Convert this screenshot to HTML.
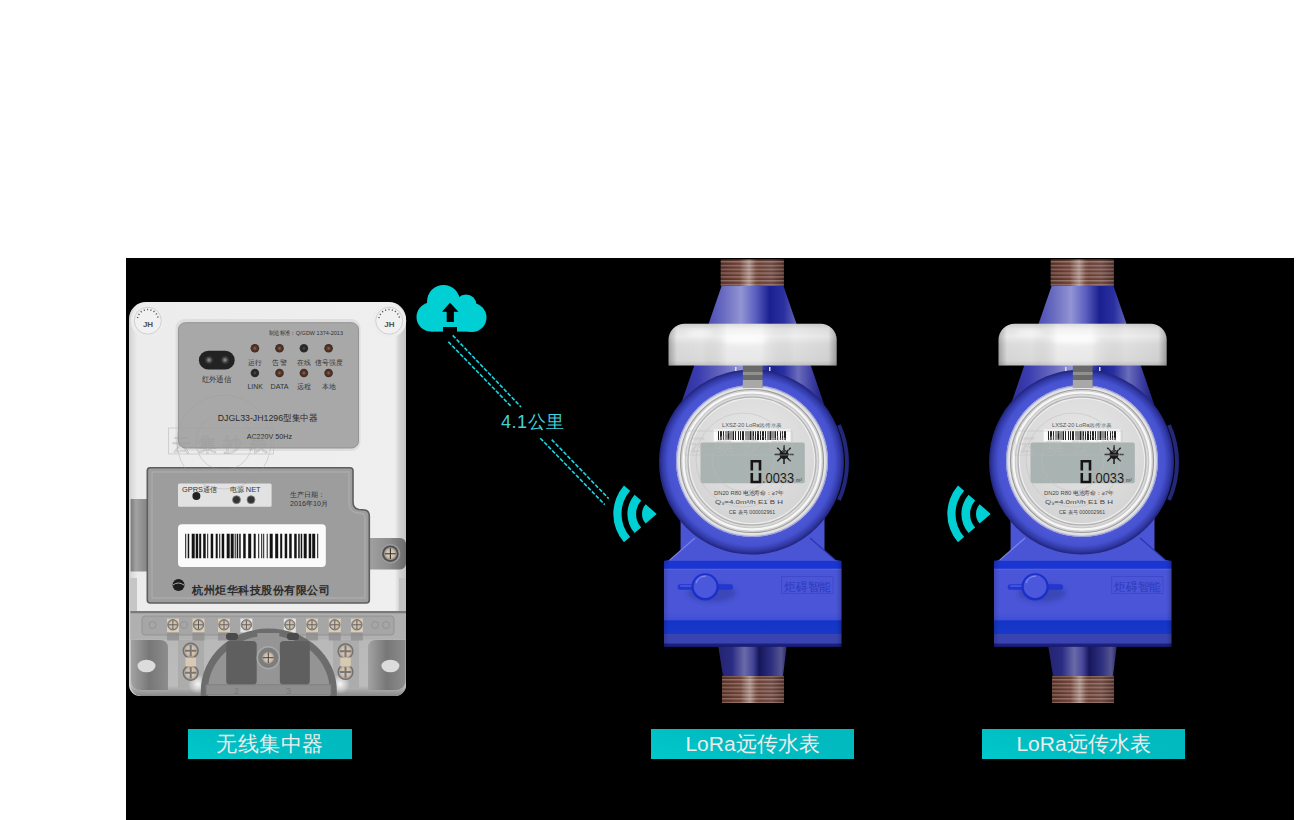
<!DOCTYPE html>
<html><head><meta charset="utf-8">
<style>
html,body{margin:0;padding:0;background:#fff;width:1300px;height:820px;overflow:hidden;font-family:"Liberation Sans",sans-serif}
#stage{position:absolute;left:126px;top:258px;width:1168px;height:562px;background:#000}
.abs{position:absolute}
.label{position:absolute;top:729px;height:30px;background:linear-gradient(20deg,#00c9cc 0%,#00bcc1 45%,#00b9be 100%);color:#ececec;font-size:21px;line-height:30px;text-align:center;white-space:nowrap}
</style></head>
<body>
<div id="stage"></div>
<svg class="abs" style="left:0;top:0" width="1300" height="820" viewBox="0 0 1300 820">
 <defs>
  <linearGradient id="bodyG" x1="0" x2="1" y1="0" y2="0">
   <stop offset="0" stop-color="#d2d2d2"/><stop offset="0.03" stop-color="#ececec"/>
   <stop offset="0.96" stop-color="#efefef"/><stop offset="0.975" stop-color="#d4d4d4"/><stop offset="1" stop-color="#c4c4c4"/>
  </linearGradient>
  <linearGradient id="coverG" x1="0" x2="0" y1="0" y2="1">
   <stop offset="0" stop-color="#a2a2a2"/><stop offset="0.5" stop-color="#9a9a9a"/><stop offset="1" stop-color="#8e8e8e"/>
  </linearGradient>
  <radialGradient id="irG" cx="0.5" cy="0.5" r="0.5">
   <stop offset="0" stop-color="#9a9a9a"/><stop offset="0.6" stop-color="#3a3a3a"/><stop offset="1" stop-color="#1e1e1e"/>
  </radialGradient>
  <radialGradient id="ledB" cx="0.5" cy="0.5" r="0.5">
   <stop offset="0" stop-color="#8a7060"/><stop offset="0.45" stop-color="#5a3424"/><stop offset="1" stop-color="#3a2a22"/>
  </radialGradient>
  <radialGradient id="ledK" cx="0.5" cy="0.5" r="0.5">
   <stop offset="0" stop-color="#555"/><stop offset="0.5" stop-color="#222"/><stop offset="1" stop-color="#333"/>
  </radialGradient>
  <radialGradient id="scrG" cx="0.5" cy="0.5" r="0.5">
   <stop offset="0" stop-color="#e6d8c6"/><stop offset="0.7" stop-color="#cbb8a4"/><stop offset="1" stop-color="#7a7a7a"/>
  </radialGradient>
 </defs>
 <!-- body -->
 <path d="M146 302 H389 A17 17 0 0 1 406 319 V685 A11 11 0 0 1 395 696 H140 A11 11 0 0 1 129 685 V319 A17 17 0 0 1 146 302 Z" fill="url(#bodyG)"/>
 <!-- JH badges -->
 <circle cx="147.8" cy="320.7" r="17" fill="#ededed"/><circle cx="389.2" cy="320.7" r="17" fill="#ededed"/>
 <g fill="#f1f1f1" stroke="#d0d0d0" stroke-width="1">
  <circle cx="147.8" cy="320.7" r="13.5"/><circle cx="389.2" cy="320.7" r="13.5"/>
 </g>
 <g font-family="Liberation Sans" font-weight="bold" font-size="8" fill="#505050" text-anchor="middle">
  <text x="148" y="327.3">JH</text><text x="389.4" y="327.3">JH</text>
 </g>
 <g stroke="#555" stroke-width="1.5" stroke-dasharray="1.1 2.3" fill="none">
  <path d="M137.5 318 A10.5 10.5 0 0 1 158.1 318"/><path d="M378.9 318 A10.5 10.5 0 0 1 399.5 318"/>
 </g>
 <!-- upper panel -->
 <rect x="175.5" y="319" width="185" height="132" rx="9" fill="#dedede"/>
 <rect x="178.4" y="322.7" width="180.1" height="125.3" rx="7" fill="#a8a8a8" stroke="#939393" stroke-width="1"/>
 <g font-family="Liberation Sans" fill="#333" lengthAdjust="spacingAndGlyphs">
  <text x="269" y="334.6" font-size="6.2" textLength="74" lengthAdjust="spacingAndGlyphs">制造标准：Q/GDW 1374-2013</text>
  <text x="201.5" y="381.8" font-size="7.6" textLength="29.8" lengthAdjust="spacingAndGlyphs">红外通信</text>
  <text x="248.4" y="364.8" font-size="7.4" textLength="13.6" lengthAdjust="spacingAndGlyphs">运行</text>
  <text x="272.3" y="364.8" font-size="7.4" textLength="14.5" lengthAdjust="spacingAndGlyphs">告警</text>
  <text x="297" y="364.8" font-size="7.4" textLength="13.7" lengthAdjust="spacingAndGlyphs">在线</text>
  <text x="315.3" y="364.8" font-size="7.4" textLength="27" lengthAdjust="spacingAndGlyphs">信号强度</text>
  <text x="247.5" y="388.6" font-size="7.4" textLength="15.4" lengthAdjust="spacingAndGlyphs">LINK</text>
  <text x="270.6" y="388.6" font-size="7.4" textLength="18" lengthAdjust="spacingAndGlyphs">DATA</text>
  <text x="297" y="388.6" font-size="7.4" textLength="13.7" lengthAdjust="spacingAndGlyphs">远程</text>
  <text x="321.8" y="388.6" font-size="7.4" textLength="13.7" lengthAdjust="spacingAndGlyphs">本地</text>
  <text x="217.7" y="421.2" font-size="9.2" fill="#2a2a2a" textLength="99.8" lengthAdjust="spacingAndGlyphs">DJGL33-JH1296型集中器</text>
  <text x="246.7" y="439" font-size="7.4" fill="#2a2a2a" textLength="45.3" lengthAdjust="spacingAndGlyphs">AC220V 50Hz</text>
 </g>
 <rect x="198.9" y="350.8" width="35.8" height="18.8" rx="9.4" fill="#222"/>
 <circle cx="209" cy="360" r="5" fill="url(#irG)"/><circle cx="225" cy="360" r="5" fill="url(#irG)"/>
 <g>
  <circle cx="254.9" cy="348.3" r="4.3" fill="url(#ledB)"/><circle cx="279.5" cy="348.3" r="4.3" fill="url(#ledB)"/>
  <circle cx="303.9" cy="348.3" r="4.3" fill="url(#ledK)"/><circle cx="328.6" cy="348.3" r="4.3" fill="url(#ledB)"/>
  <circle cx="254.9" cy="373" r="4.3" fill="url(#ledK)"/><circle cx="279.5" cy="373" r="4.3" fill="url(#ledB)"/>
  <circle cx="303.9" cy="373" r="4.3" fill="url(#ledB)"/><circle cx="328.6" cy="373" r="4.3" fill="url(#ledB)"/>
 </g>
 <!-- side tabs -->
 <linearGradient id="brkG" x1="0" x2="1"><stop offset="0" stop-color="#a4a4a4"/><stop offset="0.6" stop-color="#8c8c8c"/><stop offset="1" stop-color="#6a6a6a"/></linearGradient>
 <path d="M366 538 H400 A6 6 0 0 1 406 544 V563.5 A6 6 0 0 1 400 569.5 H366 Z" fill="url(#brkG)"/>
 <circle cx="390.4" cy="553.7" r="10" fill="#9a9a9a"/>
 <circle cx="390.4" cy="553.7" r="8.3" fill="#4e4e4e"/>
 <circle cx="390.4" cy="553.7" r="6.6" fill="url(#scrG)"/>
 <path d="M385 553.7 H395.8 M390.4 548.3 V559.1" stroke="#333" stroke-width="1.1"/>
 <linearGradient id="tabG" x1="0" x2="1"><stop offset="0" stop-color="#7a7a7a"/><stop offset="0.3" stop-color="#a2a2a2"/><stop offset="0.7" stop-color="#8e8e8e"/><stop offset="1" stop-color="#848484"/></linearGradient>
 <rect x="130.6" y="499" width="18" height="72.5" fill="url(#tabG)"/>
 <rect x="130" y="578" width="7" height="33" fill="#c6c6c6"/>
 <rect x="399" y="578" width="7" height="33" fill="#c2c2c2"/>
 <!-- lower panel -->
 <path d="M150 467.8 H350 A3 3 0 0 1 353 470.8 V502 Q353 508.5 359 509.5 L365 510 Q369.3 511 369.3 516 V600 A3 3 0 0 1 366.3 603 H150.3 A3 3 0 0 1 147.3 600 V470.8 A3 3 0 0 1 150 467.8 Z" fill="#9d9d9d" stroke="#5e5e5e" stroke-width="1.6"/>
 <path d="M152 472 H349 V503 Q349 512 358 513 L362 513.5 Q365 514 365 518 V598 H152 Z" fill="none" stroke="#b0b0b0" stroke-width="1.4" opacity="0.7"/>
 <rect x="178" y="483.4" width="93.6" height="23.4" rx="1.5" fill="#e2e2e2"/>
 <g font-family="Liberation Sans" fill="#333">
  <text x="182" y="491.5" font-size="7.4">GPRS通信</text>
  <text x="229.8" y="492" font-size="7.4">电源 NET</text>
  <text x="290" y="497" font-size="7.2">生产日期：</text>
  <text x="290" y="506" font-size="7.2">2016年10月</text>
 </g>
 <circle cx="196.4" cy="496" r="4" fill="#222"/>
 <circle cx="236.5" cy="499.7" r="4" fill="#333" stroke="#888" stroke-width="0.8"/>
 <circle cx="251" cy="499.7" r="4" fill="#333" stroke="#888" stroke-width="0.8"/>
 <rect x="178" y="524.2" width="147.8" height="42.8" rx="4" fill="#fbfbfb"/>
 <line x1="185.2" y1="545.9" x2="318.5" y2="545.9" stroke="#141414" stroke-width="24.5" stroke-dasharray="1 1.5 1.5 2.5 3 1 2.5 1 2 2 2.5 1.5 1 2.5 2.5 2.5 2 1.5 1 1.5 2.5 2.5 3 1 3 1 1 1 1.5 1 1.5 2.5 2.5 2.5 3 2.5 2 2.5 1 2 1 1 1 2.5 1 2 3 2.5 3 2 2 2.5 2.5 2 2.5 2.5 2.5 1.5 1.5 1 1.5 1.5 3 2 2.5 1 3 2"/>
 <circle cx="178.5" cy="585" r="6" fill="#1e1e1e"/>
 <path d="M173 585 Q178 581 184 585" stroke="#aaa" stroke-width="1" fill="none"/>
 <text x="192" y="593.5" font-family="Liberation Sans" font-size="11" font-weight="bold" fill="#2a2a2a" textLength="138" lengthAdjust="spacing">杭州炬华科技股份有限公司</text>
 <!-- terminal cover -->
 <defs>
  <radialGradient id="glowG" cx="0.5" cy="0.5" r="0.5"><stop offset="0" stop-color="#fff" stop-opacity="0.9"/><stop offset="1" stop-color="#fff" stop-opacity="0"/></radialGradient>
  <linearGradient id="sideG" x1="0" x2="1"><stop offset="0" stop-color="#a0a0a0"/><stop offset="0.5" stop-color="#707070"/><stop offset="1" stop-color="#888888"/></linearGradient>
 </defs>
 <linearGradient id="cov2" x1="0" x2="0" y1="611" y2="696" gradientUnits="userSpaceOnUse"><stop offset="0" stop-color="#b6b6b6"/><stop offset="0.88" stop-color="#bcbcbc"/><stop offset="1" stop-color="#888888"/></linearGradient>
 <path d="M130.4 611 H406 V685 A11 11 0 0 1 395 696 H141.4 A11 11 0 0 1 130.4 685 Z" fill="url(#cov2)"/>
 <rect x="130.4" y="611" width="275.6" height="2.5" fill="#7a7a7a"/>
 <rect x="130.4" y="613.5" width="275.6" height="26" fill="#b0b0b0"/>
 <rect x="142" y="616" width="252" height="19" rx="3" fill="#a6a6a6" stroke="#8e8e8e" stroke-width="0.8"/>
 <path d="M131 640 H160 Q168 640 168 648 V690 H142 Q131 690 131 680 Z" fill="url(#sideG)" opacity="0.9"/>
 <path d="M405.5 640 H376 Q368 640 368 648 V690 H394 Q405.5 690 405.5 680 Z" fill="url(#sideG)" opacity="0.9"/>
 <ellipse cx="146.5" cy="666" rx="9" ry="6.3" fill="#dcdcdc"/>
 <ellipse cx="390.4" cy="666" rx="9" ry="6.3" fill="#dcdcdc"/>
 <rect x="178" y="640" width="26" height="48" fill="#acacac"/><rect x="333" y="640" width="26" height="48" fill="#acacac"/>
 <circle cx="198" cy="684" r="10" fill="url(#glowG)"/><circle cx="340" cy="684" r="10" fill="url(#glowG)"/>
 <g fill="#d9ccb8">
  <rect x="167" y="618.5" width="12" height="14"/><rect x="192.5" y="618.5" width="12" height="14"/><rect x="218" y="618.5" width="12" height="14"/><rect x="240.4" y="618.5" width="12" height="14" fill="#e4e4e4"/>
  <rect x="283.8" y="618.5" width="12" height="14" fill="#e4e4e4"/><rect x="306" y="618.5" width="12" height="14"/><rect x="328.8" y="618.5" width="12" height="14"/><rect x="350.9" y="618.5" width="12" height="14"/>
 </g>
 <g fill="#8c8c8c" opacity="0.7">
  <rect x="167" y="632.5" width="12" height="8"/><rect x="192.5" y="632.5" width="12" height="8"/><rect x="218" y="632.5" width="12" height="8"/>
  <rect x="306" y="632.5" width="12" height="8"/><rect x="328.8" y="632.5" width="12" height="8"/><rect x="350.9" y="632.5" width="12" height="8"/>
 </g>
 <g fill="none" stroke="#8e8e8e" stroke-width="0.8">
  <circle cx="152.5" cy="625" r="3.5"/><circle cx="184" cy="625" r="3.5"/><circle cx="375" cy="625" r="3.5"/><circle cx="386" cy="625" r="3.5"/>
 </g>
 <!-- arch -->
 <path d="M200.8 696 V691 A68 62.5 0 0 1 336.8 691 V696 Z" fill="#6c6c6c"/>
 <path d="M207.8 696 V691 A61 55.5 0 0 1 329.8 691 V696 Z" fill="#949494"/>
 <rect x="226.2" y="641" width="30.5" height="43.8" rx="4" fill="#5f5f5f"/>
 <rect x="279.8" y="641" width="30" height="43.8" rx="4" fill="#5f5f5f"/>
 <rect x="257.3" y="633" width="22" height="51.8" fill="#959595"/>
 <rect x="206" y="684.8" width="125" height="10" fill="#8e8e8e" stroke="#7c7c7c" stroke-width="0.8"/>
 <text x="234" y="694" font-family="Liberation Sans" font-size="9" fill="#7a7a7a">2</text>
 <text x="286" y="694" font-family="Liberation Sans" font-size="9" fill="#7a7a7a">3</text>
 <rect x="226" y="633" width="12" height="7" rx="3" fill="#4a4a4a"/><rect x="287" y="633" width="12" height="7" rx="3" fill="#4a4a4a"/>
 <g fill="url(#scrG)" stroke="#6a6a6a" stroke-width="0.8">
  <circle cx="172.9" cy="624.8" r="5.2"/><circle cx="198.5" cy="624.8" r="5.2"/><circle cx="224" cy="624.8" r="5.2"/><circle cx="246.4" cy="624.8" r="5.2"/>
  <circle cx="289.8" cy="624.8" r="5.2"/><circle cx="312" cy="624.8" r="5.2"/><circle cx="334.8" cy="624.8" r="5.2"/><circle cx="356.9" cy="624.8" r="5.2"/>
 </g>
 <path d="M168.5 624.8 h8.8 M172.9 620.4 v8.8 M194.1 624.8 h8.8 M198.5 620.4 v8.8 M219.6 624.8 h8.8 M224 620.4 v8.8 M242 624.8 h8.8 M246.4 620.4 v8.8 M285.4 624.8 h8.8 M289.8 620.4 v8.8 M307.6 624.8 h8.8 M312 620.4 v8.8 M330.4 624.8 h8.8 M334.8 620.4 v8.8 M352.5 624.8 h8.8 M356.9 620.4 v8.8" stroke="#555" stroke-width="0.9"/>
 <g fill="url(#scrG)" stroke="#6f6f6f" stroke-width="1.2">
  <circle cx="190.7" cy="650.7" r="7.5"/><circle cx="190.7" cy="672.8" r="7.5"/>
  <circle cx="345.5" cy="651.3" r="7.5"/><circle cx="345.5" cy="672" r="7.5"/>
 </g>
 <path d="M185 650.7 h11.4 M190.7 645 v11.4 M185 672.8 h11.4 M190.7 667.1 v11.4 M339.8 651.3 h11.4 M345.5 645.6 v11.4 M339.8 672 h11.4 M345.5 666.3 v11.4" stroke="#777" stroke-width="2"/>
 <rect x="185.5" y="657.5" width="10.5" height="9" fill="#d8c9b2"/><rect x="340.3" y="657.5" width="10.5" height="9" fill="#d8c9b2"/>
 <circle cx="268.3" cy="657.7" r="11" fill="#7d7d7d" stroke="#a8a8a8" stroke-width="1.5"/>
 <circle cx="268.3" cy="657.7" r="6.5" fill="url(#scrG)"/>
 <path d="M263 657.7 H273.6 M268.3 652.4 V663" stroke="#444" stroke-width="1"/>
 <!-- watermark -->
 <g fill="none" stroke="#9c9c9c" stroke-width="0.8" opacity="0.45">
  <circle cx="224" cy="442" r="47"/><circle cx="224" cy="442" r="28"/>
  <rect x="168.6" y="428" width="105" height="26"/>
 </g>
 <text x="172" y="451" font-family="Liberation Sans" font-size="19" fill="none" stroke="#9a9a9a" stroke-width="0.7" textLength="96" lengthAdjust="spacing" opacity="0.5">云集抄表</text>
</svg>

<svg class="abs" style="left:0;top:0" width="1300" height="820" viewBox="0 0 1300 820">
 <defs>
  <filter id="blur2" x="-50%" y="-50%" width="200%" height="200%"><feGaussianBlur stdDeviation="2.5"/></filter>
  <linearGradient id="thrG" x1="0" x2="1" y1="0" y2="0">
   <stop offset="0" stop-color="#583228"/><stop offset="0.3" stop-color="#6e4034"/><stop offset="0.45" stop-color="#8e6a5e"/><stop offset="0.6" stop-color="#6a3e32"/><stop offset="0.8" stop-color="#74504a"/><stop offset="1" stop-color="#50302a"/>
  </linearGradient>
  <pattern id="thrP" width="10" height="3.8" patternUnits="userSpaceOnUse" y="261">
   <rect width="10" height="1.4" fill="#d8b8b0" opacity="0.38"/><rect y="2.6" width="10" height="0.9" fill="#3a1a14" opacity="0.45"/>
  </pattern>
  <linearGradient id="thrS" x1="0" x2="1"><stop offset="0" stop-color="#fff" stop-opacity="0"/><stop offset="0.3" stop-color="#fff" stop-opacity="0.05"/><stop offset="0.45" stop-color="#fff" stop-opacity="0.3"/><stop offset="0.55" stop-color="#fff" stop-opacity="0.05"/><stop offset="1" stop-color="#fff" stop-opacity="0"/></linearGradient>
  <linearGradient id="coneG" x1="0" x2="1" y1="0" y2="0">
   <stop offset="0" stop-color="#30309a"/><stop offset="0.12" stop-color="#3a3cb0"/><stop offset="0.3" stop-color="#6a6cc0"/><stop offset="0.42" stop-color="#9294d4"/><stop offset="0.52" stop-color="#5c60c0"/><stop offset="0.62" stop-color="#1a2090"/><stop offset="0.72" stop-color="#2a30a0"/><stop offset="0.82" stop-color="#6a6cbc"/><stop offset="0.92" stop-color="#3a3ca0"/><stop offset="1" stop-color="#1c1e78"/>
  </linearGradient>
  <linearGradient id="cone2G" x1="0" x2="1" y1="0" y2="0">
   <stop offset="0" stop-color="#24246e"/><stop offset="0.2" stop-color="#2a2c84"/><stop offset="0.38" stop-color="#6a6aa8"/><stop offset="0.5" stop-color="#48489a"/><stop offset="0.6" stop-color="#16165c"/><stop offset="0.78" stop-color="#2e3080"/><stop offset="0.92" stop-color="#55558e"/><stop offset="1" stop-color="#2a2a70"/>
  </linearGradient>
  <linearGradient id="capG" x1="0" x2="0" y1="0" y2="1">
   <stop offset="0" stop-color="#d6d6d6"/><stop offset="0.12" stop-color="#eeeeee"/><stop offset="0.3" stop-color="#f8f8f8"/><stop offset="0.5" stop-color="#e8e8e8"/><stop offset="0.88" stop-color="#e2e2e2"/><stop offset="1" stop-color="#cacaca"/>
  </linearGradient>
  <linearGradient id="capH" x1="0" x2="1" y1="0" y2="0">
   <stop offset="0" stop-color="#000" stop-opacity="0.3"/><stop offset="0.05" stop-color="#000" stop-opacity="0.06"/><stop offset="0.2" stop-color="#000" stop-opacity="0.04"/><stop offset="0.35" stop-color="#fff" stop-opacity="0.2"/><stop offset="0.55" stop-color="#fff" stop-opacity="0.2"/><stop offset="0.75" stop-color="#000" stop-opacity="0.04"/><stop offset="0.95" stop-color="#000" stop-opacity="0.08"/><stop offset="1" stop-color="#000" stop-opacity="0.32"/>
  </linearGradient>
  <radialGradient id="ringG" cx="0.5" cy="0.5" r="0.5">
   <stop offset="0.8" stop-color="#4e58d6"/><stop offset="0.9" stop-color="#4652d0"/><stop offset="0.96" stop-color="#323aa8"/><stop offset="1" stop-color="#20247a"/>
  </radialGradient>
  <radialGradient id="bezG" cx="0.5" cy="0.5" r="0.5">
   <stop offset="0.78" stop-color="#d8d8d8"/><stop offset="0.84" stop-color="#f4f4f4"/><stop offset="0.9" stop-color="#b0b0b0"/><stop offset="0.95" stop-color="#ececec"/><stop offset="1" stop-color="#c8c8d8"/>
  </radialGradient>
  <radialGradient id="faceG" cx="0.5" cy="0.35" r="0.65">
   <stop offset="0" stop-color="#e8e8e8"/><stop offset="1" stop-color="#d4d4d4"/>
  </radialGradient>
  <linearGradient id="blkG" x1="0" x2="0" y1="560" y2="647" gradientUnits="userSpaceOnUse">
   <stop offset="0" stop-color="#1a35d0"/><stop offset="0.095" stop-color="#1a35d0"/><stop offset="0.105" stop-color="#5a64e0"/><stop offset="0.12" stop-color="#4a55d8"/>
   <stop offset="0.6" stop-color="#4a55d8"/><stop offset="0.685" stop-color="#4050d6"/><stop offset="0.7" stop-color="#1434c6"/><stop offset="0.845" stop-color="#1838c8"/>
   <stop offset="0.855" stop-color="#3a44b0"/><stop offset="0.955" stop-color="#3a44b0"/><stop offset="0.965" stop-color="#1a1e80"/><stop offset="1" stop-color="#1a1e80"/>
  </linearGradient>
  <linearGradient id="blkH" x1="0" x2="1">
   <stop offset="0" stop-color="#000" stop-opacity="0.15"/><stop offset="0.03" stop-color="#000" stop-opacity="0"/><stop offset="0.97" stop-color="#000" stop-opacity="0"/><stop offset="1" stop-color="#000" stop-opacity="0.2"/>
  </linearGradient>
 </defs>
 <g id="meter">
  <!-- top thread -->
  <rect x="720.7" y="259.5" width="63.2" height="26.5" fill="url(#thrG)"/>
  <rect x="720.7" y="259.5" width="63.2" height="26.5" fill="url(#thrP)"/>
  <rect x="720.7" y="259.5" width="63.2" height="26.5" fill="url(#thrS)"/>
  <!-- upper cone -->
  <path d="M721.6 286 H783.5 L824 404 H681 Z" fill="url(#coneG)"/>
  <!-- neck -->
  <path d="M680.6 500 H824.5 V550.6 L835.5 560.1 L841.5 561.2 H664 L669.6 560.1 L680.6 550.6 Z" fill="#4a55d5"/>
  <path d="M669.6 560.1 L695 538" stroke="#7a84ea" stroke-width="1.2"/>
  <path d="M835.5 560.1 L810 538" stroke="#2a34b0" stroke-width="1.2"/>
  <!-- ring -->
  <circle cx="751.5" cy="462" r="92.5" fill="url(#ringG)"/>
  <path d="M839 425 A92 92 0 0 1 839 500" stroke="#2c3296" stroke-width="4" fill="none" opacity="0.8"/>
  <!-- bezel -->
  <circle cx="752" cy="461" r="76" fill="url(#bezG)"/>
  <circle cx="752" cy="461" r="62" fill="url(#faceG)"/>
  <circle cx="752" cy="461" r="64" fill="none" stroke="#b4b4b4" stroke-width="1.5"/>
  <circle cx="752" cy="461" r="68.5" fill="none" stroke="#f6f6f6" stroke-width="2.5"/>
  <circle cx="752" cy="461" r="71.5" fill="none" stroke="#9c9c9c" stroke-width="1.2"/>
  <circle cx="752" cy="461" r="75.5" fill="none" stroke="#9aa0d8" stroke-width="1"/>
  <!-- barcode -->
  <rect x="713.7" y="429.4" width="76.8" height="12.1" fill="#fafafa"/>
  <line x1="718" y1="435.6" x2="787" y2="435.6" stroke="#222" stroke-width="9" stroke-dasharray="1 1 2 1 1 1.5 1 1 2 1 1 1 1.5 1 1 2 1 1 1 1 2 1.5 1 1 1 1 2 1 1.5 1 1 1 2 1"/>
  <text x="722" y="427" font-family="Liberation Sans" font-size="5" fill="#555" textLength="60" lengthAdjust="spacingAndGlyphs">LXSZ-20 LoRa远传水表</text>
  <!-- LCD -->
  <rect x="700.5" y="442.6" width="104.3" height="40.6" rx="2" fill="#a9b3b1"/>
  <path d="M751.8 470.5 V461.3 H760 V470.5 M751.8 473 V482 H760 V473" stroke="#151515" stroke-width="2.6" fill="none"/>
  <text x="762" y="482.5" font-family="Liberation Sans" font-size="15" fill="#1a1a1a" textLength="32" lengthAdjust="spacingAndGlyphs">.0033</text>
  <text x="796" y="482" font-family="Liberation Sans" font-size="5" fill="#333">m³</text>
  <circle cx="784" cy="454.5" r="4.5" fill="#1a1a1a"/>
  <path d="M784 445 V464 M774.5 454.5 H793.5 M777.3 447.8 L790.7 461.2 M790.7 447.8 L777.3 461.2" stroke="#1a1a1a" stroke-width="1.5"/>
  <g font-family="Liberation Sans" fill="#444" font-size="6">
   <text x="714" y="494.5" textLength="70" lengthAdjust="spacingAndGlyphs">DN20  R80  电池寿命：≥7年</text>
   <text x="715" y="504" textLength="68" lengthAdjust="spacingAndGlyphs">Q₃=4.0m³/h   E1  B     H</text>
   <text x="729" y="513.5" font-size="5" textLength="46" lengthAdjust="spacingAndGlyphs">CE 表号 000002961</text>
  </g>
  <!-- latch -->
  <rect x="742.9" y="364" width="19.6" height="24" fill="#6a6a6a"/>
  <rect x="742.9" y="372" width="19.6" height="3" fill="#909090"/>
  <rect x="742.9" y="380" width="19.6" height="8" fill="#a8a8a8"/>
  <rect x="735" y="367" width="1.5" height="4" fill="#ddd"/><rect x="769" y="367" width="1.5" height="4" fill="#ddd"/>
  <!-- cap -->
  <path d="M668.6 365.5 V340 A16 16 0 0 1 684.6 323.7 H820.6 A16 16 0 0 1 836.6 340 V365.5 Z" fill="url(#capG)"/>
  <path d="M668.6 365.5 V340 A16 16 0 0 1 684.6 323.7 H820.6 A16 16 0 0 1 836.6 340 V365.5 Z" fill="url(#capH)"/>
  <ellipse cx="745" cy="340" rx="22" ry="3.5" fill="#fff" opacity="0.8" filter="url(#blur2)"/>
  <ellipse cx="700" cy="333" rx="14" ry="2.5" fill="#fff" opacity="0.6" filter="url(#blur2)"/>
  <!-- block -->
  <rect x="664" y="560.8" width="177.5" height="86" fill="url(#blkG)"/>
  <rect x="664" y="560.8" width="177.5" height="86" fill="url(#blkH)"/>
  <ellipse cx="712" cy="593" rx="24" ry="9" fill="#2c3490" opacity="0.45" filter="url(#blur2)"/>
  <rect x="677.7" y="584.2" width="55.3" height="5.5" rx="2.5" fill="#2236d0"/>
  <rect x="680" y="585" width="12" height="2" rx="1" fill="#5a66e6" opacity="0.6"/>
  <circle cx="705.1" cy="586.9" r="13.6" fill="#1a30c8"/>
  <circle cx="705.1" cy="586.5" r="11.4" fill="#4c58dc"/>
  <path d="M696 583 A10 10 0 0 1 706 576.2" stroke="#8088ee" stroke-width="1.2" fill="none"/>
  <rect x="781.7" y="576.5" width="51.3" height="17" fill="none" stroke="#3c48c8" stroke-width="0.8"/>
  <text x="784" y="591" font-family="Liberation Sans" font-size="12" fill="#2c3ab8" textLength="47" lengthAdjust="spacingAndGlyphs">炬碍智能</text>
  <!-- lower cone + thread -->
  <path d="M718.3 646.8 H786.6 L783 676 H723 Z" fill="url(#cone2G)"/>
  <rect x="722" y="676" width="62" height="27" fill="url(#thrG)"/>
  <rect x="722" y="676" width="62" height="27" fill="url(#thrP)"/>
  <rect x="722" y="676" width="62" height="27" fill="url(#thrS)"/>
  <!-- watermark -->
  <g fill="none" stroke="#bcbcbc" stroke-width="0.8" opacity="0.6">
   <circle cx="743" cy="460" r="47"/><circle cx="743" cy="460" r="31"/>
   <rect x="685" y="431" width="107" height="24"/>
  </g>
  <text x="689" y="451" font-family="Liberation Sans" font-size="18" fill="none" stroke="#b8b8b8" stroke-width="0.6" textLength="98" lengthAdjust="spacing" opacity="0.6">云集抄表</text>
 </g>
 <use href="#meter" x="330" y="0"/>
</svg>


<!-- labels -->
<div class="label" style="left:188px;width:164px;letter-spacing:0.5px">无线集中器</div>
<div class="label" style="left:651px;width:203px">LoRa远传水表</div>
<div class="label" style="left:982px;width:203px">LoRa远传水表</div>

<!-- cloud + dashed lines + wifi -->
<svg class="abs" style="left:0;top:0" width="1300" height="820" viewBox="0 0 1300 820">
  <g fill="#00cfd4">
    <circle cx="443.5" cy="301.5" r="16.5"/>
    <circle cx="466" cy="305" r="10.5"/>
    <circle cx="431" cy="317" r="14.5"/>
    <circle cx="472" cy="317.5" r="14.5"/>
    <rect x="431" y="305" width="41" height="26.6"/>
  </g>
  <g fill="#000">
    <path d="M450 302.7 L458.4 311.8 L453.9 311.8 L453.9 322 L446.7 322 L446.7 311.8 L442 311.8 Z"/>
    <rect x="443" y="327" width="14" height="6"/>
  </g>
  <g stroke="#18d8e4" stroke-width="1.6" stroke-dasharray="4 1.7" fill="none">
    <line x1="452.7" y1="335.4" x2="521" y2="407"/>
    <line x1="448.3" y1="341.7" x2="511.7" y2="407"/>
    <line x1="551.7" y1="439.6" x2="608.7" y2="498.6"/>
    <line x1="540.3" y1="438.2" x2="604.7" y2="504.6"/>
  </g>
  <g id="wifi" fill="#00cfd4">
    <path d="M656.7 513.9 L645.61 504.26 A14.7 14.7 0 0 0 645.61 523.54 Z"/>
    <path d="M634.59 494.68 A29.3 29.3 0 0 0 634.59 533.12 L641.15 527.42 A20.6 20.6 0 0 1 641.15 500.38 Z"/>
    <path d="M623.95 485.43 A43.4 43.4 0 0 0 623.95 542.37 L630.13 536.99 A35.2 35.2 0 0 1 630.13 490.81 Z"/>
  </g>
  <use href="#wifi" x="334" y="0"/>
</svg>
<div class="abs" style="left:501px;top:410px;font-size:18px;letter-spacing:0.5px;color:#40d2da;white-space:nowrap">4.1公里</div>

</body></html>
